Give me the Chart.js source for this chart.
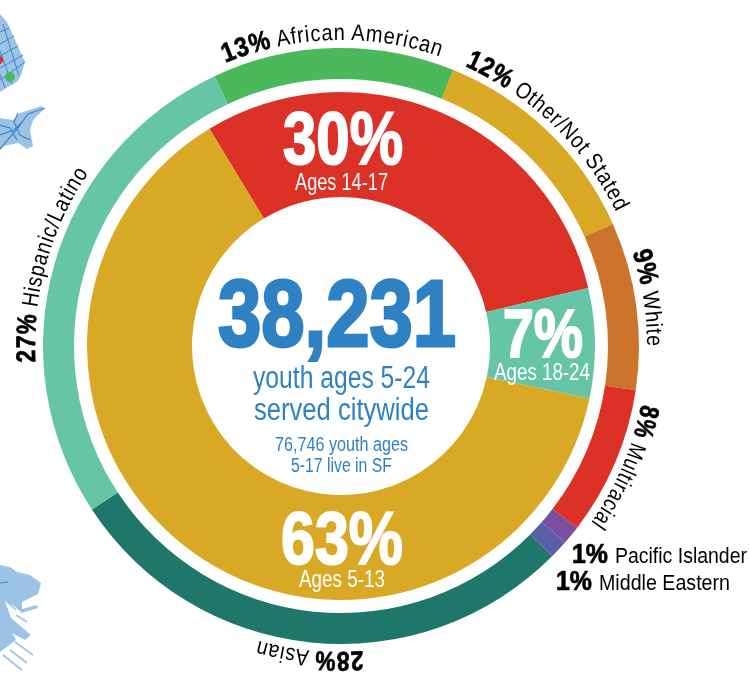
<!DOCTYPE html>
<html><head><meta charset="utf-8">
<style>
html,body{margin:0;padding:0;background:#fff;overflow:hidden}
#wrap{position:relative;width:749px;height:678px}
canvas,svg{position:absolute;left:0;top:0}
text{font-family:"Liberation Sans",sans-serif}
</style>
<script src="https://cdn.jsdelivr.net/npm/chart.js@4"></script>
</head><body>
<div id="wrap">
<svg id="maps" width="749" height="678"></svg>
<canvas id="c" width="749" height="678"></canvas>
<svg id="labels" width="749" height="678"></svg>
</div>
<script>
// Outer ring: race / ethnicity
const raceCategories = ["African American","Other/Not Stated","White","Multiracial","Pacific Islander","Middle Eastern","Asian","Hispanic/Latino"];
const raceValues     = [13,12,9,8,1,1,28,27];
const raceColors     = ["#4cb85c","#d9a926","#cc742b","#db3127","#7a4f9e","#5a60a8","#1f776c","#66c4a7"];
const racePercents   = ["13%","12%","9%","8%","1%","1%","28%","27%"];
// Inner ring: age
const ageCategories  = ["Ages 14-17","Ages 18-24","Ages 5-13"];
const ageValues      = [30,7,63];
const ageColors      = ["#db3127","#66c4a7","#d9a926"];

new Chart(document.getElementById('c'),{
  type:'doughnut',
  data:{labels:raceCategories,datasets:[
    {label:'Race / ethnicity',data:raceValues,backgroundColor:raceColors,borderWidth:0,weight:31,rotation:-25.1},
    {label:'',data:[1],backgroundColor:['rgba(0,0,0,0)'],borderWidth:0,weight:13},
    {label:'Age',data:ageValues,backgroundColor:ageColors,borderWidth:0,weight:105,rotation:-31.2}
  ]},
  options:{
    responsive:false,animation:false,cutout:149,
    layout:{padding:{left:43,right:110,top:48,bottom:34}},
    plugins:{legend:{display:false},tooltip:{enabled:false}}
  }
});

const NS='http://www.w3.org/2000/svg';
const CX=341,CY=346;
const svg=document.getElementById('labels');
const defs=document.createElementNS(NS,'defs');svg.appendChild(defs);
function el(n,a,p){const e=document.createElementNS(NS,n);for(const k in a)e.setAttribute(k,a[k]);(p||svg).appendChild(e);return e;}
function polar(r,d){const t=d*Math.PI/180;return [CX+r*Math.sin(t),CY-r*Math.cos(t)];}
// index into the race arrays, start angle, end angle
const curved=[[0,-22.2,19],[1,23.9,64.2],[2,72.2,90.2],[3,101,125.4],[6,175.9,195.8],[7,267,304.5]];
const R=306;
curved.forEach(([i,a,b],n)=>{
  const s=polar(R,a),e=polar(R,a+100);
  el('path',{id:'arc'+n,d:`M${s[0]} ${s[1]}A${R} ${R} 0 0 1 ${e[0]} ${e[1]}`,fill:'none'},defs);
  const len=(b-a)*Math.PI/180*R;
  const t=el('text',{'font-size':23,fill:'#000','letter-spacing':1});
  const tp=el('textPath',{href:'#arc'+n,textLength:len.toFixed(1),lengthAdjust:'spacingAndGlyphs'},t);
  const p=el('tspan',{'font-weight':'bold','font-size':27,stroke:'#000','stroke-width':.7},tp);p.textContent=racePercents[i];
  const c=el('tspan',{},tp);c.textContent=' '+raceCategories[i];
});
// straight texts: text, x, baseline y, width, size, weight, colour, stroke
function st(txt,x,y,w,fs,wt,col,sw){
  const a={x,y,'font-size':fs,'font-weight':wt,fill:col,textLength:w,lengthAdjust:'spacingAndGlyphs'};
  if(sw){a.stroke=col;a['stroke-width']=sw;}
  const t=el('text',a);t.textContent=txt;return t;
}
function mixed(pct,name,x,y,w1,x2,w2){
  st(pct,x,y,w1,27,'bold','#000',.7);st(name,x2,y,w2,22,'normal','#000');
}
mixed(racePercents[4],raceCategories[4],572,563,36,615,132);
mixed(racePercents[5],raceCategories[5],556,590,36,599,131);
const B='#2e82c4',W='#fff';
st('38,231',218,346,238,94,'bold',B,3);
st('youth ages 5-24',253,388,177,31,'normal',B);
st('served citywide',254,420,175,31,'normal',B);
st('76,746 youth ages',275,451,133,20,'normal',B);
st('5-17 live in SF',291,472,101,20,'normal',B);
st('30%',283,164,120,74,'bold',W,2);
st(ageCategories[0],295,190,93,24,'normal',W);
st('63%',281,564,122,74,'bold',W,2);
st(ageCategories[2],299,587,86,24,'normal',W);
st('7%',503,357,80,68,'bold',W,2);
st(ageCategories[1],494,380,96,24,'normal',W);

// decorative map fragments at the left edge
const m=document.getElementById('maps');
const L='#9cc3e6',D='#3b87c8';
el('polygon',{points:'0,14 7,22 25,62 21,75 18,81 0,92',fill:L},m);
el('path',{d:'M0 32L9 28M0 44L14 36M0 56L18 46M0 68L23 55M0 80L25 62M3 24L19 76M-4 40L12 84M-6 58L5 88',stroke:D,'stroke-width':1,fill:'none'},m);
el('circle',{cx:10,cy:77,r:5,fill:'#4cb85c'},m);
el('circle',{cx:-1,cy:60,r:4,fill:'#db3127'},m);
el('polygon',{points:'0,118 13,120 20,113 42,106 44,109 33,120 30,130 33,146 27,149 18,143 4,146 0,150',fill:L},m);
el('path',{d:'M0 149L18 128L28 114L45 108M0 135L14 130L22 122M18 113L14 122L20 135L30 140M0 125L10 128L17 140',stroke:D,'stroke-width':1.2,fill:'none'},m);
el('polygon',{points:'0,565 10,567 17,572 30,575 41,583 38,594 22,602 22,609 37,605 38,608 22,613 14,606 5,601 11,618 31,635 25,640 12,633 16,640 0,652',fill:L},m);
el('path',{d:'M5 600L16 610M16 615L27 622M15 642L33 655M10 650L27 663M3 655L22 670',stroke:L,'stroke-width':1.6,fill:'none'},m);
el('path',{d:'M0 583L8 582',stroke:D,'stroke-width':1.2,fill:'none'},m);
</script>
</body></html>
